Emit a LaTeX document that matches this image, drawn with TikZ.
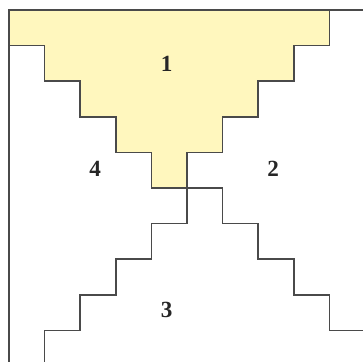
\documentclass[tikz,border=0pt]{standalone}
\usepackage{fontspec}
\setmainfont{Liberation Serif}
\usetikzlibrary{positioning}
\definecolor{paleyellow}{HTML}{FFF7BE}
\definecolor{edgegray}{HTML}{4A4A4A}

\begin{document}
\begin{tikzpicture}[y=-1cm, line width=1.2pt, line join=miter,
  edge/.style={draw=edgegray, line width=1.2pt},
  region/.style={font=\fontsize{18.5}{22}\selectfont\bfseries, text=black!85}
]

% Bounding box
\useasboundingbox (-0.253,-0.281) rectangle (9.916,9.888);

% Yellow region
\filldraw[edge, fill=paleyellow] (0,0) -- (9,0) -- (9,1) -- (8,1) -- (8,2) -- (7,2) -- (7,3)
  -- (6,3) -- (6,4) -- (5,4) -- (5,5) -- (4,5) -- (4,4) -- (3,4) -- (3,3) -- (2,3)
  -- (2,2) -- (1,2) -- (1,1) -- (0,1) -- cycle;

% Outer border
\draw[edge] (10.2,0) -- (0,0) -- (0,10.2);

% Lower staircases
\draw[edge] (5,5) -- (5,6) -- (4,6) -- (4,7) -- (3,7) -- (3,8) -- (2,8) -- (2,9)
  -- (1,9) -- (1,10.2);
\draw[edge] (5,5) -- (6,5) -- (6,6) -- (7,6) -- (7,7) -- (8,7) -- (8,8) -- (9,8)
  -- (9,9) -- (10.2,9);

% Labels
\node[region] (one) at (4.43,1.52) {1};
\node[region] (two) at (7.42,4.47) {2};
\node[region] (three) at (4.43,8.42) {3};
\node[region] (four) at (2.42,4.47) {4};

\end{tikzpicture}
\end{document}
